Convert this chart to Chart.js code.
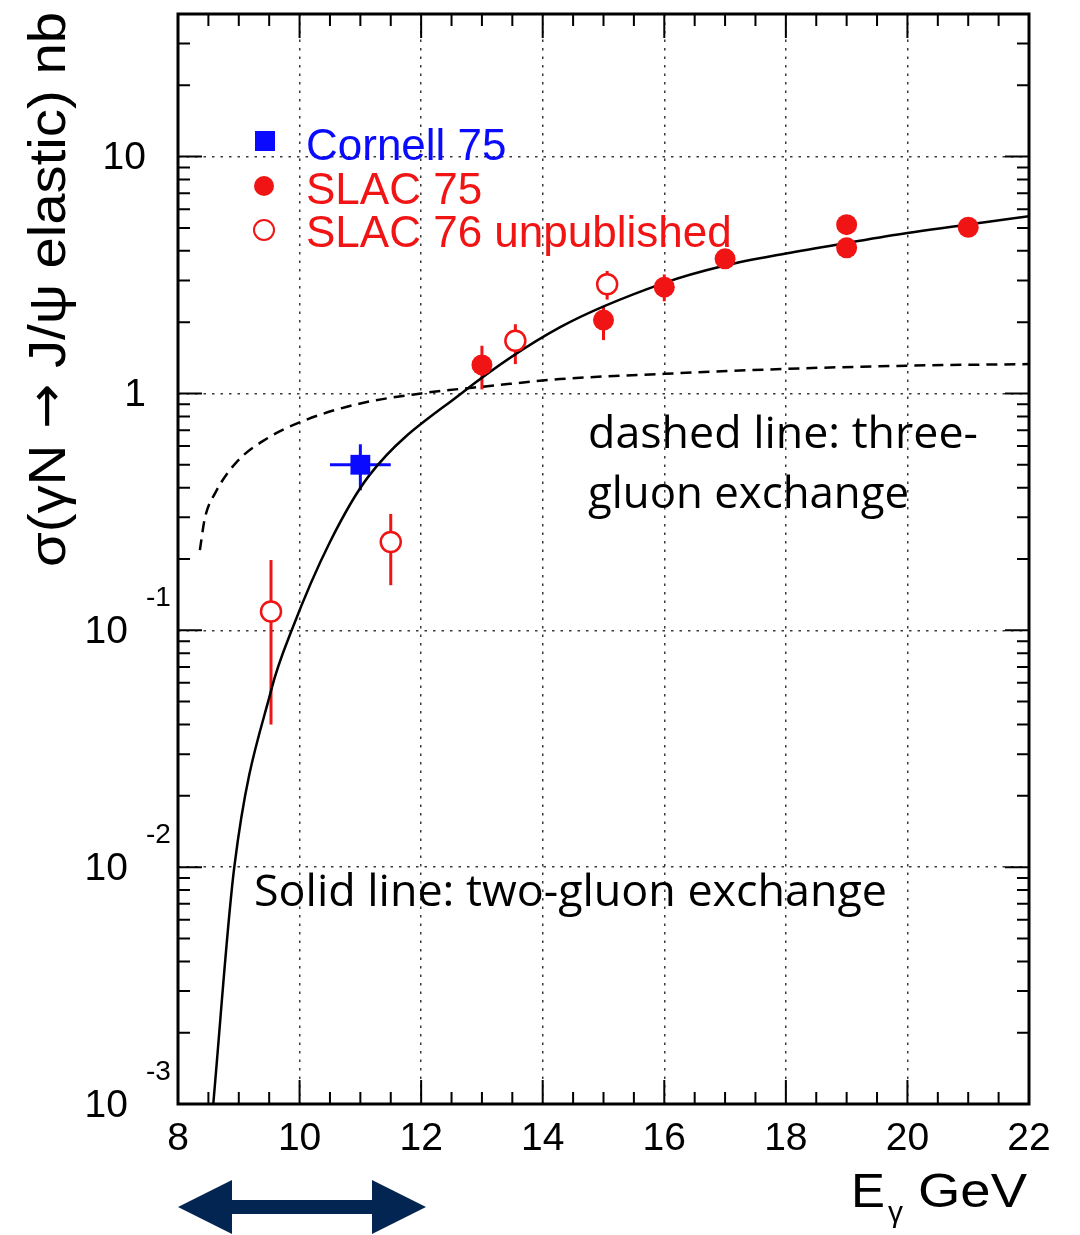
<!DOCTYPE html>
<html>
<head>
<meta charset="utf-8">
<script src="https://cdn.jsdelivr.net/npm/chart.js@4.4.0/dist/chart.umd.min.js"></script>
<style>
  html, body { margin: 0; padding: 0; background: #fff; }
  canvas { display: block; }
</style>
</head>
<body>
<canvas id="jpsiChart" width="1080" height="1235"></canvas>
<script>
// two-gluon exchange curve (solid)
const energyTwoGluon = [8.58, 8.926, 9.54, 9.87, 10.5, 11.15, 12.66, 14.28, 16.0, 17.0, 18.0, 19.0, 20.0, 22.0];
const sigmaTwoGluon = [0.001, 0.01, 0.0567, 0.1, 0.236, 0.452, 1.0, 1.9, 2.93, 3.47, 3.9, 4.32, 4.76, 5.6];

// three-gluon exchange curve (dashed)
const energyThreeGluon = [8.36, 8.44, 8.62, 8.96, 9.45, 10.0, 10.94, 12.0, 13.2, 14.28, 16.0, 18.0, 20.0, 22.0];
const sigmaThreeGluon = [0.218, 0.296, 0.383, 0.512, 0.642, 0.755, 0.9, 1.0, 1.08, 1.15, 1.21, 1.27, 1.31, 1.33];

// Cornell 75
const cornellEnergy = [11.0];
const cornellSigma = [0.5];
const cornellSigmaLow = [0.39];
const cornellSigmaHigh = [0.61];
const cornellEnergyLow = [10.5];
const cornellEnergyHigh = [11.5];

// SLAC 75
const slac75Energy = [13.0, 15.0, 16.0, 17.0, 19.0, 19.0, 21.0];
const slac75Sigma = [1.32, 2.04, 2.81, 3.7, 5.16, 4.12, 5.03];
const slac75SigmaLow = [1.04, 1.68, 2.45, 3.45, 4.9, 3.9, 4.8];
const slac75SigmaHigh = [1.59, 2.34, 3.18, 3.98, 5.45, 4.35, 5.28];

// SLAC 76 unpublished
const slac76Energy = [9.53, 11.5, 13.55, 15.06];
const slac76Sigma = [0.12, 0.236, 1.67, 2.89];
const slac76SigmaLow = [0.04, 0.155, 1.33, 2.49];
const slac76SigmaHigh = [0.198, 0.31, 1.96, 3.29];

// axes
const xTickValues = [8, 10, 12, 14, 16, 18, 20, 22];
const yTickValues = [0.001, 0.01, 0.1, 1, 10];
const yTickBase = ['10', '10', '10', '1', '10'];
const yTickExp = ['-3', '-2', '-1', '', ''];

const yTitleParts = ['σ(γN ', '→', ' J/ψ elastic) nb'];
const noteThreeGluon = ['dashed line: three-', 'gluon exchange'];
const noteTwoGluon = 'Solid line: two-gluon exchange';
const arrowRange = [8, 12.08];

const RED = '#f01414';
const BLUE = '#0a0aff';
const SANS = '"Liberation Sans", Arial, sans-serif';

function toPoints(xs, ys) {
    return xs.map((x, i) => ({ x: x, y: ys[i] }));
}

// draw text stretched/squeezed to a given width
function fitText(ctx, text, x, y, width) {
    const w = ctx.measureText(text).width;
    ctx.save();
    ctx.translate(x, y);
    ctx.scale(width / w, 1);
    ctx.fillText(text, 0, 0);
    ctx.restore();
}

// same but for pieces in different fonts
function fitSegments(ctx, segs, x, y, width) {
    let total = 0;
    segs.forEach(s => { ctx.font = s.font; s.w = ctx.measureText(s.t).width; total += s.w; });
    ctx.save();
    ctx.translate(x, y);
    ctx.scale(width / total, 1);
    let cx = 0;
    segs.forEach(s => { ctx.font = s.font; ctx.fillText(s.t, cx, s.dy || 0); cx += s.w; });
    ctx.restore();
}

const decorations = {
    id: 'decorations',
    beforeDatasetsDraw(chart) {
        const { ctx, chartArea, scales: { x, y } } = chart;
        ctx.save();
        ctx.beginPath();
        ctx.rect(chartArea.left, chartArea.top, chartArea.right - chartArea.left, chartArea.bottom - chartArea.top);
        ctx.clip();
        chart.data.datasets.forEach(ds => {
            if (!ds.errLow) return;
            ctx.strokeStyle = ds.borderColor;
            ctx.lineWidth = 3;
            ds.data.forEach((p, i) => {
                const px = x.getPixelForValue(p.x);
                ctx.beginPath();
                ctx.moveTo(px, y.getPixelForValue(ds.errLow[i]));
                ctx.lineTo(px, y.getPixelForValue(ds.errHigh[i]));
                ctx.stroke();
                if (ds.errXLow) {
                    const py = y.getPixelForValue(p.y);
                    ctx.beginPath();
                    ctx.moveTo(x.getPixelForValue(ds.errXLow[i]), py);
                    ctx.lineTo(x.getPixelForValue(ds.errXHigh[i]), py);
                    ctx.stroke();
                }
            });
        });
        ctx.restore();
    },
    afterDraw(chart) {
        const { ctx, chartArea: a, scales: { x, y } } = chart;
        ctx.save();

        // frame
        ctx.strokeStyle = '#000';
        ctx.lineWidth = 3;
        ctx.strokeRect(a.left, a.top, a.right - a.left, a.bottom - a.top);

        // inward ticks on all four sides
        ctx.lineWidth = 2;
        for (let v = 8; v <= 22.001; v += 0.5) {
            const px = x.getPixelForValue(v);
            const len = (Math.round(v) === v && v % 2 === 0) ? 24 : 12;
            ctx.beginPath();
            ctx.moveTo(px, a.bottom); ctx.lineTo(px, a.bottom - len);
            ctx.moveTo(px, a.top); ctx.lineTo(px, a.top + len);
            ctx.stroke();
        }
        yTickValues.forEach(d => {
            for (let m = 1; m <= 9; m++) {
                const v = d * m;
                if (v > y.max) break;
                const py = y.getPixelForValue(v);
                const len = m === 1 ? 24 : 12;
                ctx.beginPath();
                ctx.moveTo(a.left, py); ctx.lineTo(a.left + len, py);
                ctx.moveTo(a.right, py); ctx.lineTo(a.right - len, py);
                ctx.stroke();
            }
        });

        // y tick labels with exponents
        ctx.fillStyle = '#000';
        ctx.textBaseline = 'middle';
        yTickValues.forEach((v, i) => {
            const py = y.getPixelForValue(v);
            if (yTickExp[i]) {
                ctx.font = '39px ' + SANS;
                ctx.textAlign = 'right';
                ctx.fillText(yTickBase[i], 128, py + 2);
                ctx.font = '28px ' + SANS;
                ctx.textAlign = 'left';
                ctx.fillText(yTickExp[i], 146, py - 32);
            } else {
                ctx.font = '39px ' + SANS;
                ctx.textAlign = 'right';
                ctx.fillText(yTickBase[i], 146, py + 2);
            }
        });

        // y axis title, rotated
        ctx.save();
        ctx.translate(65, 567);
        ctx.rotate(-Math.PI / 2);
        ctx.textAlign = 'left';
        ctx.textBaseline = 'alphabetic';
        fitSegments(ctx, [
            { t: yTitleParts[0], font: '52px ' + SANS },
            { t: yTitleParts[1], font: '50px "DejaVu Sans", sans-serif', dy: -2 },
            { t: yTitleParts[2], font: '52px ' + SANS }
        ], 0, 0, 555);
        ctx.restore();

        // x axis title
        ctx.textBaseline = 'alphabetic';
        ctx.textAlign = 'left';
        ctx.font = '48px ' + SANS;
        fitText(ctx, 'E', 851, 1207, 34);
        ctx.font = '30px ' + SANS;
        ctx.fillText('γ', 888, 1222);
        ctx.font = '48px ' + SANS;
        fitText(ctx, 'GeV', 918, 1207, 109);

        // legend
        ctx.textAlign = 'left';
        ctx.font = '44px ' + SANS;
        const legendRows = [160, 204, 247];
        const mk = [
            { ds: chart.data.datasets[0], y: 141 },
            { ds: chart.data.datasets[1], y: 186 },
            { ds: chart.data.datasets[2], y: 230 }
        ];
        mk.forEach((m, i) => {
            const ds = m.ds;
            ctx.fillStyle = ds.borderColor;
            ctx.strokeStyle = ds.borderColor;
            if (ds.pointStyle === 'rect') {
                ctx.fillRect(255, m.y - 10, 20, 20);
            } else {
                ctx.beginPath();
                ctx.arc(264, m.y, 10, 0, Math.PI * 2);
                if (ds.backgroundColor === '#ffffff') {
                    ctx.fillStyle = '#fff';
                    ctx.fill();
                    ctx.lineWidth = 2;
                    ctx.stroke();
                } else {
                    ctx.fill();
                }
            }
            ctx.fillStyle = ds.borderColor;
            ctx.fillText(ds.label, 306, legendRows[i]);
        });

        // notes
        ctx.fillStyle = '#000';
        ctx.font = '44px "Open Sans", sans-serif';
        fitText(ctx, noteThreeGluon[0], 588, 448, 390);
        fitText(ctx, noteThreeGluon[1], 588, 508, 321);
        fitText(ctx, noteTwoGluon, 254, 906, 633);

        // double arrow under the x axis
        const x0 = x.getPixelForValue(arrowRange[0]);
        const x1 = x.getPixelForValue(arrowRange[1]);
        const cy = 1207, head = 54, hh = 27, sh = 7;
        ctx.fillStyle = '#022552';
        ctx.beginPath();
        ctx.moveTo(x0, cy);
        ctx.lineTo(x0 + head, cy - hh);
        ctx.lineTo(x0 + head, cy - sh);
        ctx.lineTo(x1 - head, cy - sh);
        ctx.lineTo(x1 - head, cy - hh);
        ctx.lineTo(x1, cy);
        ctx.lineTo(x1 - head, cy + hh);
        ctx.lineTo(x1 - head, cy + sh);
        ctx.lineTo(x0 + head, cy + sh);
        ctx.lineTo(x0 + head, cy + hh);
        ctx.closePath();
        ctx.fill();

        ctx.restore();
    }
};

const ctx = document.getElementById('jpsiChart').getContext('2d');
new Chart(ctx, {
    type: 'scatter',
    data: {
        datasets: [
            {
                label: 'Cornell 75',
                data: toPoints(cornellEnergy, cornellSigma),
                errLow: cornellSigmaLow,
                errHigh: cornellSigmaHigh,
                errXLow: cornellEnergyLow,
                errXHigh: cornellEnergyHigh,
                pointStyle: 'rect',
                pointRadius: 14,
                borderColor: BLUE,
                backgroundColor: BLUE,
                pointBorderWidth: 0
            },
            {
                label: 'SLAC 75',
                data: toPoints(slac75Energy, slac75Sigma),
                errLow: slac75SigmaLow,
                errHigh: slac75SigmaHigh,
                pointStyle: 'circle',
                pointRadius: 10.5,
                borderColor: RED,
                backgroundColor: RED,
                pointBorderWidth: 0
            },
            {
                label: 'SLAC 76 unpublished',
                data: toPoints(slac76Energy, slac76Sigma),
                errLow: slac76SigmaLow,
                errHigh: slac76SigmaHigh,
                pointStyle: 'circle',
                pointRadius: 10,
                borderColor: RED,
                backgroundColor: '#ffffff',
                pointBorderWidth: 2.5
            },
            {
                label: 'three-gluon exchange',
                data: toPoints(energyThreeGluon, sigmaThreeGluon),
                showLine: true,
                borderColor: '#000',
                borderWidth: 2.5,
                borderDash: [11, 7],
                pointRadius: 0,
                cubicInterpolationMode: 'monotone'
            },
            {
                label: 'two-gluon exchange',
                data: toPoints(energyTwoGluon, sigmaTwoGluon),
                showLine: true,
                borderColor: '#000',
                borderWidth: 2.5,
                pointRadius: 0,
                cubicInterpolationMode: 'monotone'
            }
        ]
    },
    options: {
        responsive: false,
        devicePixelRatio: 1,
        animation: false,
        layout: { padding: { top: 11, right: 51, left: 0, bottom: 0 } },
        plugins: {
            legend: { display: false },
            tooltip: { enabled: false }
        },
        scales: {
            x: {
                type: 'linear',
                min: 8,
                max: 22,
                afterBuildTicks: s => { s.ticks = xTickValues.map(v => ({ value: v })); },
                afterFit: s => { s.height = 131; },
                ticks: {
                    color: '#000',
                    font: { family: SANS, size: 39 },
                    padding: 12,
                    maxRotation: 0,
                    autoSkip: false
                },
                grid: {
                    drawTicks: false,
                    lineWidth: 1.5,
                    color: c => (c.tick && (c.tick.value === 8 || c.tick.value === 22)) ? 'rgba(0,0,0,0)' : '#3a3a3a'
                },
                border: { display: false, dash: [2.5, 6] }
            },
            y: {
                type: 'logarithmic',
                min: 0.001,
                max: 40,
                afterBuildTicks: s => { s.ticks = yTickValues.map(v => ({ value: v })); },
                afterFit: s => { s.width = 178; },
                ticks: { display: false },
                grid: {
                    drawTicks: false,
                    lineWidth: 1.5,
                    color: c => (c.tick && c.tick.value === 0.001) ? 'rgba(0,0,0,0)' : '#3a3a3a'
                },
                border: { display: false, dash: [2.5, 6] }
            }
        }
    },
    plugins: [decorations]
});
</script>
</body>
</html>
